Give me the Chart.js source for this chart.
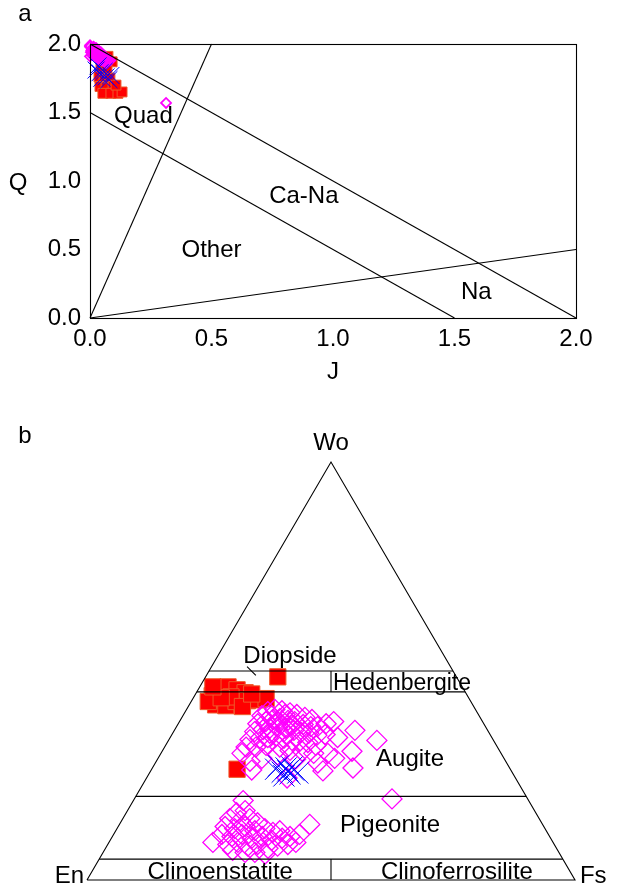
<!DOCTYPE html>
<html>
<head>
<meta charset="utf-8">
<script src="https://cdn.jsdelivr.net/npm/chart.js@4.4.0/dist/chart.umd.min.js"></script>
<style>
  html, body { margin: 0; padding: 0; background: #fff; }
  #wrap { position: relative; width: 618px; height: 896px; overflow: hidden; }
  canvas { position: absolute; left: 0; }
  #qj { top: 0; }
  #pyx { top: 400px; }
</style>
</head>
<body>
<div id="wrap">
  <canvas id="qj" width="618" height="400"></canvas>
  <canvas id="pyx" width="618" height="496"></canvas>
</div>
<script>
// ---------- (a) Q-J diagram ----------
const qjTickLabels = ['0.0', '0.5', '1.0', '1.5', '2.0'];

// Q = Ca + Mg + Fe2+, J = 2Na (atoms per formula unit)
const redJ  = [0.041, 0.074, 0.091, 0.045, 0.070, 0.037, 0.058, 0.082, 0.041, 0.066, 0.095, 0.053, 0.086, 0.115, 0.132, 0.107];
const redQ  = [1.90, 1.91, 1.87, 1.83, 1.81, 1.76, 1.74, 1.75, 1.69, 1.68, 1.69, 1.64, 1.64, 1.64, 1.65, 1.70];
const magJ  = [0.000, 0.000, 0.008, 0.016, 0.025, 0.033, 0.041, 0.049, 0.058, 0.066, 0.074, 0.004, 0.008, 0.021, 0.033, 0.045, 0.000,
               0.005, 0.012, 0.020, 0.028, 0.036, 0.044, 0.052, 0.060, 0.068, 0.015, 0.025, 0.035, 0.045, 0.055, 0.065, 0.075, 0.083, 0.313];
const magQ  = [1.99, 1.98, 1.96, 1.96, 1.94, 1.93, 1.92, 1.91, 1.90, 1.88, 1.88, 1.94, 1.92, 1.91, 1.89, 1.88, 1.91,
               1.95, 1.93, 1.93, 1.92, 1.90, 1.89, 1.88, 1.87, 1.86, 1.98, 1.97, 1.95, 1.94, 1.92, 1.90, 1.89, 1.88, 1.57];
const blueJ = [0.025, 0.041, 0.058, 0.066, 0.049, 0.078, 0.033, 0.086];
const blueQ = [1.81, 1.79, 1.80, 1.76, 1.75, 1.74, 1.84, 1.77];

// field boundaries: [J1, Q1, J2, Q2]
const qjBoundaries = [[0, 2, 2, 0], [0, 1.5, 1.5, 0], [0, 0, 0.5, 2], [0, 0, 2, 0.5]];
const qjFieldNames = ['Quad', 'Ca-Na', 'Other', 'Na'];

// ---------- (b) Wo-En-Fs diagram (mol %) ----------
const redWo  = [48.6, 26.5, 44.1, 45.5, 46.2, 45.5, 44.8, 41.9, 41.7, 42.7, 42.9, 43.1, 43.4, 42.7, 43.8, 43.6, 41.5, 46.2, 44.5];
const redFs  = [14.8, 17.5, 3.6, 4.5, 5.8, 8.0, 10.0, 5.4, 7.6, 9.2, 11.4, 13.4, 15.0, 3.5, 7.6, 5.7, 11.1, 2.7, 11.5];

const augWo = [39.3, 40.3, 40.8, 40.5, 40.0, 39.6, 38.9, 38.4,
               37.4, 37.9, 38.4, 38.6, 38.2, 37.9, 37.2, 36.7, 36.7, 37.4, 37.9,
               35.5, 36.0, 36.3, 36.5, 36.3, 35.8, 35.3, 35.1, 34.6, 34.8,
               33.6, 33.9, 34.1, 34.4, 33.9, 33.4, 33.2, 32.9, 32.2,
               31.8, 31.8, 32.2, 31.8, 31.0, 30.8, 30.3, 30.3, 34.1,
               30.3, 28.4, 29.1, 29.9, 28.9, 28.0, 29.1,
               35.8, 33.4, 30.8, 26.8, 26.1, 26.3, 24.4, 19.4,
               39.3, 39.6, 37.7, 37.0, 35.1, 35.5];
const augFs = [16.2, 16.9, 18.1, 19.7, 21.6, 23.2, 25.2, 26.9,
               16.3, 17.7, 18.9, 20.2, 22.1, 23.6, 25.7, 27.5, 28.9, 30.3, 31.6,
               16.6, 18.1, 19.3, 20.8, 22.6, 24.5, 26.2, 27.9, 29.8, 31.4,
               16.6, 18.5, 20.0, 21.5, 23.4, 25.3, 27.0, 28.8, 30.8,
               16.7, 18.7, 20.6, 23.6, 26.1, 28.7, 31.3, 34.2, 34.3,
               16.6, 19.2, 21.3, 24.1, 28.3, 33.3, 36.2,
               37.0, 42.7, 38.9, 41.1, 35.3, 20.6, 28.8, 52.8,
               18.2, 20.8, 20.3, 23.5, 19.9, 22.6];
const pigWo = [19.0, 16.1, 16.6, 14.7, 14.2, 14.7, 13.7, 12.8, 12.3, 12.8, 11.8, 12.3, 11.4, 11.8,
               10.9, 10.4, 10.9, 10.0, 10.4, 9.5, 10.0, 10.4, 8.5, 9.0, 8.1, 8.5, 7.6, 8.1, 8.5, 9.0,
               7.1, 6.6, 6.6, 6.2, 13.3, 10.9, 9.0];
const pigFs = [22.5, 22.6, 24.1, 21.9, 24.3, 26.0, 28.1, 21.9, 24.1, 26.0, 28.5, 30.3, 32.4, 33.6,
               22.2, 24.5, 26.3, 28.8, 30.7, 33.1, 35.0, 36.4, 24.6, 26.4, 28.9, 30.7, 33.3, 35.0, 36.9, 38.3,
               26.3, 29.1, 31.1, 33.4, 39.0, 38.1, 21.3];
const blueWo = [26.5, 25.8, 26.8, 25.4, 26.3, 25.6, 24.9, 27.3, 26.1, 27.0];
const blueFs = [25.4, 27.1, 27.4, 28.9, 29.2, 30.4, 27.9, 25.6, 28.1, 28.5];

// horizontal Wo levels separating the fields
const woLevels = [50, 45, 20, 5];

// ---------- helpers ----------
const FONT = "'Liberation Sans', Arial, Helvetica, sans-serif";
const H = Math.sqrt(3) / 2;
const zipXY = (xs, ys) => xs.map((v, i) => ({ x: v, y: ys[i] }));
// ternary (Wo, Fs) -> cartesian, En at the origin, Fs at x = 100
const tern = (wo, fs) => ({ x: fs + wo / 2, y: wo * H });
const ternSet = (wos, fss) => wos.map((w, i) => tern(w, fss[i]));

const segment = (pts, width) => ({
  type: 'scatter', data: pts, showLine: true, borderColor: '#000', borderWidth: width || 1.1,
  pointRadius: 0, fill: false, order: 0, clip: false, tension: 0
});

const redStyle = (r) => ({ pointStyle: 'rect', pointRadius: r, backgroundColor: '#ff0000', borderColor: '#ee5a2a', borderWidth: 1, order: 3, clip: false });
const magStyle = (r, w) => ({ pointStyle: 'rectRot', pointRadius: r, backgroundColor: 'rgba(255,255,255,0)', borderColor: '#ff00ff', borderWidth: w, order: 2, clip: false });
const blueStyle = (r) => ({ pointStyle: 'crossRot', pointRadius: r, backgroundColor: '#0000ff', borderColor: '#0000ff', borderWidth: 1, order: 1, clip: false });

const textLayer = {
  id: 'textLayer',
  afterDraw(chart, args, opts) {
    const ctx = chart.ctx;
    const sx = chart.scales.x, sy = chart.scales.y;
    ctx.save();
    ctx.fillStyle = '#000';
    ctx.textBaseline = 'middle';
    (opts.items || []).forEach(it => {
      ctx.font = (it.size || opts.size) + 'px ' + FONT;
      ctx.textAlign = it.align || 'center';
      const px = it.px !== undefined ? it.px : sx.getPixelForValue(it.x);
      const py = it.py !== undefined ? it.py : sy.getPixelForValue(it.y);
      ctx.fillText(it.text, px, py);
    });
    ctx.restore();
  }
};

const frame = {
  id: 'frame',
  afterDatasetsDraw(chart, args, opts) {
    if (!opts.on) return;
    const a = chart.chartArea, ctx = chart.ctx;
    ctx.save();
    ctx.strokeStyle = '#000';
    ctx.lineWidth = 1.1;
    ctx.strokeRect(Math.round(a.left) + 0.5, Math.round(a.top) + 0.5, Math.round(a.right - a.left), Math.round(a.bottom - a.top));
    ctx.restore();
  }
};

const baseOpts = {
  responsive: false,
  animation: false,
  events: [],
  plugins: { legend: { display: false }, tooltip: { enabled: false } }
};

// ---------- chart (a) ----------
const tickFont = { family: FONT, size: 24 };
const qjLabelPos = [[0.22, 1.47], [0.88, 0.89], [0.50, 0.49], [1.59, 0.19]];

new Chart(document.getElementById('qj'), {
  type: 'scatter',
  data: {
    datasets: [
      ...qjBoundaries.map(b => segment([{ x: b[0], y: b[1] }, { x: b[2], y: b[3] }])),
      Object.assign({ data: zipXY(blueJ, blueQ) }, blueStyle(12)),
      Object.assign({ data: zipXY(magJ, magQ) }, magStyle(5, 1.8)),
      Object.assign({ data: zipXY(redJ, redQ) }, redStyle(7))
    ]
  },
  options: Object.assign({}, baseOpts, {
    layout: { padding: { top: 44, right: 42, bottom: 0, left: 0 } },
    scales: {
      x: {
        type: 'linear', min: 0, max: 2,
        grid: { display: false, drawTicks: false }, border: { display: false },
        ticks: { stepSize: 0.5, font: tickFont, color: '#000', padding: 7, maxRotation: 0,
                 callback: (v, i) => qjTickLabels[i] },
        afterFit: s => { s.height = 82; }
      },
      y: {
        type: 'linear', min: 0, max: 2,
        grid: { display: false, drawTicks: false }, border: { display: false },
        ticks: { stepSize: 0.5, font: tickFont, color: '#000', padding: 9,
                 callback: (v, i) => qjTickLabels[i] },
        afterFit: s => { s.width = 90; }
      }
    },
    plugins: Object.assign({}, baseOpts.plugins, {
      frame: { on: true },
      textLayer: {
        size: 24,
        items: [
          ...qjFieldNames.map((t, i) => ({ text: t, x: qjLabelPos[i][0], y: qjLabelPos[i][1] })),
          { text: 'a', px: 25, py: 14 },
          { text: 'Q', px: 18, py: 183 },
          { text: 'J', px: 333, py: 372 }
        ]
      }
    })
  }),
  plugins: [frame, textLayer]
});

// ---------- chart (b) ----------
const fieldLines = [
  segment([tern(0, 0), tern(100, 0), tern(0, 100), tern(0, 0)]),
  ...woLevels.map(w => segment([tern(w, 0), tern(w, 100 - w)])),
  segment([{ x: 50, y: 45 * H }, { x: 50, y: 50 * H }]),
  segment([{ x: 50, y: 0 }, { x: 50, y: 5 * H }]),
  segment([{ x: 32.8, y: 44.2 }, { x: 34.6, y: 42.4 }])
];

new Chart(document.getElementById('pyx'), {
  type: 'scatter',
  data: {
    datasets: [
      ...fieldLines,
      Object.assign({ data: ternSet(blueWo, blueFs) }, blueStyle(15)),
      Object.assign({ data: ternSet(augWo.concat(pigWo), augFs.concat(pigFs)) }, magStyle(10, 1.3)),
      Object.assign({ data: ternSet(redWo, redFs) }, redStyle(11.5))
    ]
  },
  options: Object.assign({}, baseOpts, {
    layout: { padding: { top: 62, right: 43, bottom: 8, left: 87 } },
    scales: {
      x: { type: 'linear', min: 0, max: 100, display: false },
      y: { type: 'linear', min: 0, max: 100 * H, display: false }
    },
    plugins: Object.assign({}, baseOpts.plugins, {
      textLayer: {
        size: 24,
        items: [
          { text: 'b', px: 25, py: 36 },
          { text: 'Wo', x: 50, y: 90.5 },
          { text: 'En', x: -0.6, y: 0.8, align: 'right' },
          { text: 'Fs', x: 101, y: 0.8, align: 'left' },
          { text: 'Diopside', x: 41.6, y: 46.4 },
          { text: 'Hedenbergite', x: 50.4, y: 40.6, align: 'left', size: 23 },
          { text: 'Augite', x: 66.2, y: 24.9 },
          { text: 'Pigeonite', x: 62.1, y: 11.4 },
          { text: 'Clinoenstatite', x: 27.3, y: 1.6 },
          { text: 'Clinoferrosilite', x: 75.8, y: 1.6 }
        ]
      }
    })
  }),
  plugins: [textLayer]
});
</script>
</body>
</html>
